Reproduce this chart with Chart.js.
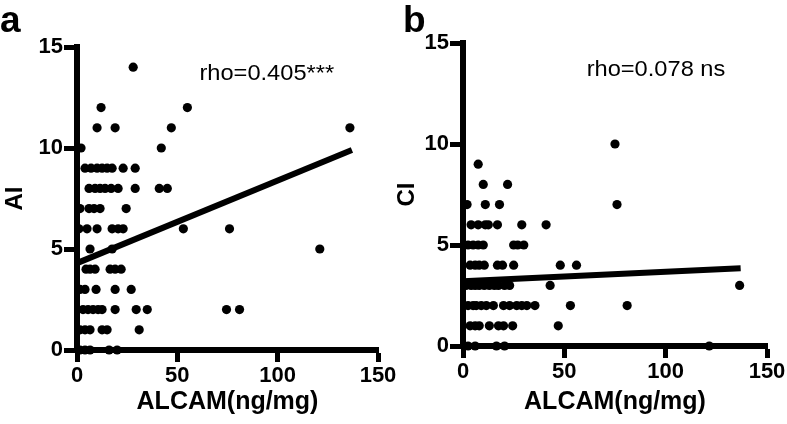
<!DOCTYPE html>
<html>
<head>
<meta charset="utf-8">
<script src="https://cdn.jsdelivr.net/npm/chart.js@4.4.0/dist/chart.umd.min.js"></script>
<style>
  html, body { margin: 0; padding: 0; background: #fff; overflow: hidden; }
  #chartA { position: absolute; left: 0; top: 0; }
  #chartB { position: absolute; left: 393px; top: 0; }
</style>
</head>
<body>
<canvas id="chartA" width="400" height="424"></canvas>
<canvas id="chartB" width="394" height="424"></canvas>
<script>
// Panel a: ALCAM vs AI (points grouped by AI score)
const aiX = [
  28,
  12, 55,
  10, 19, 47, 136,
  2, 42,
  4, 7, 10, 12.5, 15, 17.5, 23, 29,
  6, 9, 11.5, 14, 17, 20.5, 29, 41, 45,
  1.5, 6, 8.5, 11.5, 24.5,
  1, 5, 10, 17.5, 20.5, 23, 53, 76,
  6.5, 17.5, 121,
  4.5, 6.5, 9, 16.5, 19, 22,
  1.5, 4, 9.5, 19, 27,
  3, 5.5, 8, 10.5, 12.5, 19, 29.5, 35, 74.5, 81,
  1.5, 4, 6.5, 12.5, 15, 31,
  1.5, 4, 6.5, 16, 20
];
const aiY = [
  14,
  12, 12,
  11, 11, 11, 11,
  10, 10,
  9, 9, 9, 9, 9, 9, 9, 9,
  8, 8, 8, 8, 8, 8, 8, 8, 8,
  7, 7, 7, 7, 7,
  6, 6, 6, 6, 6, 6, 6, 6,
  5, 5, 5,
  4, 4, 4, 4, 4, 4,
  3, 3, 3, 3, 3,
  2, 2, 2, 2, 2, 2, 2, 2, 2, 2,
  1, 1, 1, 1, 1, 1,
  0, 0, 0, 0, 0
];
const aiFitX = [0, 137];
const aiFitY = [4.3, 9.9];

// Panel b: ALCAM vs CI
const ciX = [
  75,
  7.5,
  10, 22,
  2, 11, 18, 76,
  4, 7.5, 11, 12.5, 17, 29, 41,
  2.5, 5, 7.5, 10, 25, 27, 30,
  3.5, 6, 8, 10.5, 17, 19.5, 25, 48, 56,
  1.5, 4, 6, 8, 10.5, 13, 15.5, 17.5, 20.5, 23, 43, 136.5,
  2.5, 5, 6.5, 9, 11.5, 15, 20, 23, 26.5, 29, 31.5, 35.5, 53, 81,
  3.5, 6, 8, 13, 17.5, 20, 24.5, 47,
  2.5, 6, 16.5, 20.5, 121.5
];
const ciY = [
  10,
  9,
  8, 8,
  7, 7, 7, 7,
  6, 6, 6, 6, 6, 6, 6,
  5, 5, 5, 5, 5, 5, 5,
  4, 4, 4, 4, 4, 4, 4, 4, 4,
  3, 3, 3, 3, 3, 3, 3, 3, 3, 3, 3, 3,
  2, 2, 2, 2, 2, 2, 2, 2, 2, 2, 2, 2, 2, 2,
  1, 1, 1, 1, 1, 1, 1, 1,
  0, 0, 0, 0, 0
];
const ciFitX = [0, 137];
const ciFitY = [3.2, 3.85];

const xTicks = [0, 50, 100, 150];
const yTicks = [0, 5, 10, 15];

const FONT = '"Liberation Sans", Arial, Helvetica, sans-serif';

// letter + rho text
const panelText = {
  id: "panelText",
  afterDraw(chart, args, opts) {
    const ctx = chart.ctx;
    ctx.save();
    ctx.fillStyle = "#000";
    ctx.textBaseline = "alphabetic";
    ctx.textAlign = "left";
    ctx.font = "bold 37px " + FONT;
    ctx.fillText(opts.letter, opts.letterX, 32);
    const px = chart.scales.x.getPixelForValue(opts.noteAt[0]);
    const py = chart.scales.y.getPixelForValue(opts.noteAt[1]);
    ctx.translate(px, py);
    ctx.scale(1.1, 1);
    ctx.font = "21.5px " + FONT;
    ctx.fillText(opts.note, 0, 0);
    ctx.restore();
  },
};

function toPoints(xs, ys) {
  return xs.map((x, i) => ({ x: x, y: ys[i] }));
}

function makeChart(id, xs, ys, fitX, fitY, yTitle, cfg) {
  return new Chart(document.getElementById(id), {
    type: "scatter",
    data: {
      datasets: [
        {
          data: toPoints(fitX, fitY),
          showLine: true,
          borderColor: "#000",
          borderWidth: 6,
          pointRadius: 0,
          clip: false,
        },
        {
          data: toPoints(xs, ys),
          backgroundColor: "#000",
          borderWidth: 0,
          pointRadius: 4.6,
          clip: false,
        },
      ],
    },
    options: {
      responsive: false,
      animation: false,
      layout: { padding: { top: cfg.top, right: cfg.right, bottom: 0, left: 0 } },
      plugins: {
        legend: { display: false },
        tooltip: { enabled: false },
        panelText: { letter: cfg.letter, letterX: cfg.letterX, note: cfg.note, noteAt: [61, 13.35] },
      },
      scales: {
        x: {
          min: 0,
          max: 150,
          afterFit: (s) => { s.height = cfg.xHeight; },
          afterBuildTicks: (s) => { s.ticks = xTicks.map((v) => ({ value: v })); },
          grid: { drawOnChartArea: false, drawTicks: true, tickLength: 12, tickWidth: 5, tickColor: "#000" },
          border: { display: true, color: "#000", width: 6 },
          ticks: { color: "#000", padding: 1, maxRotation: 0, font: { family: FONT, size: 22, weight: "bold" } },
          title: {
            display: true,
            text: "ALCAM(ng/mg)",
            color: "#000",
            font: { family: FONT, size: 25, weight: "bold", lineHeight: 1.2 },
            padding: { top: 0, bottom: 7 },
          },
        },
        y: {
          min: 0,
          max: 15,
          afterFit: (s) => { s.width = cfg.yWidth; },
          afterBuildTicks: (s) => { s.ticks = yTicks.map((v) => ({ value: v })); },
          grid: { drawOnChartArea: false, drawTicks: true, tickLength: 13, tickWidth: 5, tickColor: "#000" },
          border: { display: true, color: "#000", width: 6 },
          ticks: { color: "#000", padding: 1, font: { family: FONT, size: 22, weight: "bold" } },
          title: {
            display: true,
            text: yTitle,
            color: "#000",
            font: { family: FONT, size: 24, weight: "bold", lineHeight: 1.2 },
            padding: { top: cfg.yTitlePad, bottom: 0 },
          },
        },
      },
    },
    plugins: [panelText],
  });
}

makeChart("chartA", aiX, aiY, aiFitX, aiFitY, "AI", {
  top: 47, right: 22, xHeight: 74, yWidth: 77, yTitlePad: 1,
  letter: "a", letterX: 0, note: "rho=0.405***",
});
makeChart("chartB", ciX, ciY, ciFitX, ciFitY, "CI", {
  top: 43, right: 20, xHeight: 78, yWidth: 70, yTitlePad: 0,
  letter: "b", letterX: 10, note: "rho=0.078 ns",
});
</script>
</body>
</html>
